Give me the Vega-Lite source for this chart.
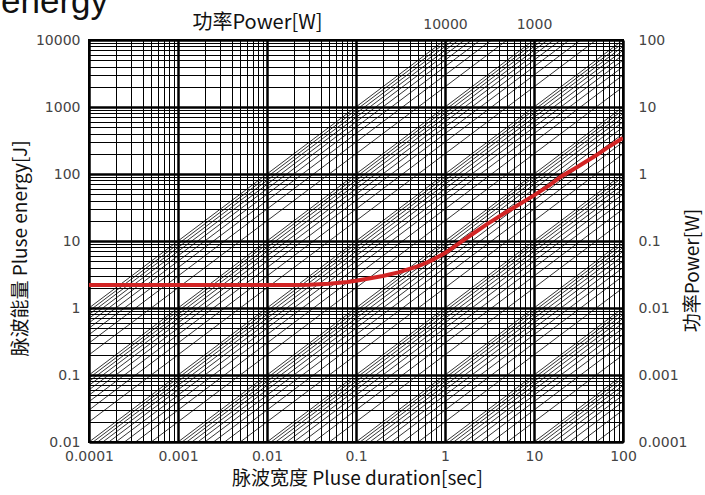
{
  "$schema": "https://vega.github.io/schema/vega-lite/v6.json",
  "width": 534,
  "height": 402,
  "autosize": "none",
  "padding": {"left": 89, "top": 40, "right": 82, "bottom": 53},
  "background": "white",
  "config": {
    "view": {"stroke": "black", "strokeWidth": 2},
    "axis": {
      "labelFont": "DejaVu Sans",
      "labelFontSize": 14,
      "labelColor": "#444",
      "titleFont": "Noto Sans CJK SC",
      "titleFontSize": 19,
      "titleFontWeight": "normal",
      "titleColor": "#111",
      "ticks": false,
      "tickSize": 0,
      "domain": false,
      "labelOverlap": false,
      "labelFlush": false,
      "labelBound": false
    }
  },
  "title": {
    "text": "energy",
    "anchor": "start",
    "frame": "group",
    "font": "Liberation Sans",
    "fontSize": 35,
    "fontWeight": "normal",
    "color": "#111",
    "baseline": "alphabetic",
    "dx": -88,
    "dy": 36,
    "offset": 0
  },
  "datasets": {
    "diag": [
      {"p":1e-4,"t1":0.0001,"t2":100,"e1":1e-8,"e2":0.01},{"p":2e-4,"t1":0.0001,"t2":100,"e1":2e-8,"e2":0.02},{"p":3e-4,"t1":0.0001,"t2":100,"e1":3e-8,"e2":0.03},{"p":4e-4,"t1":0.0001,"t2":100,"e1":4e-8,"e2":0.04},{"p":5e-4,"t1":0.0001,"t2":100,"e1":5e-8,"e2":0.05},{"p":6e-4,"t1":0.0001,"t2":100,"e1":6e-8,"e2":0.06},{"p":7e-4,"t1":0.0001,"t2":100,"e1":7e-8,"e2":0.07},{"p":8e-4,"t1":0.0001,"t2":100,"e1":8e-8,"e2":0.08},{"p":9e-4,"t1":0.0001,"t2":100,"e1":9e-8,"e2":0.09},
      {"p":1e-3,"t1":0.0001,"t2":100,"e1":1e-7,"e2":0.1},{"p":2e-3,"t1":0.0001,"t2":100,"e1":2e-7,"e2":0.2},{"p":3e-3,"t1":0.0001,"t2":100,"e1":3e-7,"e2":0.3},{"p":4e-3,"t1":0.0001,"t2":100,"e1":4e-7,"e2":0.4},{"p":5e-3,"t1":0.0001,"t2":100,"e1":5e-7,"e2":0.5},{"p":6e-3,"t1":0.0001,"t2":100,"e1":6e-7,"e2":0.6},{"p":7e-3,"t1":0.0001,"t2":100,"e1":7e-7,"e2":0.7},{"p":8e-3,"t1":0.0001,"t2":100,"e1":8e-7,"e2":0.8},{"p":9e-3,"t1":0.0001,"t2":100,"e1":9e-7,"e2":0.9},
      {"p":0.01,"t1":0.0001,"t2":100,"e1":1e-6,"e2":1},{"p":0.02,"t1":0.0001,"t2":100,"e1":2e-6,"e2":2},{"p":0.03,"t1":0.0001,"t2":100,"e1":3e-6,"e2":3},{"p":0.04,"t1":0.0001,"t2":100,"e1":4e-6,"e2":4},{"p":0.05,"t1":0.0001,"t2":100,"e1":5e-6,"e2":5},{"p":0.06,"t1":0.0001,"t2":100,"e1":6e-6,"e2":6},{"p":0.07,"t1":0.0001,"t2":100,"e1":7e-6,"e2":7},{"p":0.08,"t1":0.0001,"t2":100,"e1":8e-6,"e2":8},{"p":0.09,"t1":0.0001,"t2":100,"e1":9e-6,"e2":9},
      {"p":0.1,"t1":0.0001,"t2":100,"e1":1e-5,"e2":10},{"p":0.2,"t1":0.0001,"t2":100,"e1":2e-5,"e2":20},{"p":0.3,"t1":0.0001,"t2":100,"e1":3e-5,"e2":30},{"p":0.4,"t1":0.0001,"t2":100,"e1":4e-5,"e2":40},{"p":0.5,"t1":0.0001,"t2":100,"e1":5e-5,"e2":50},{"p":0.6,"t1":0.0001,"t2":100,"e1":6e-5,"e2":60},{"p":0.7,"t1":0.0001,"t2":100,"e1":7e-5,"e2":70},{"p":0.8,"t1":0.0001,"t2":100,"e1":8e-5,"e2":80},{"p":0.9,"t1":0.0001,"t2":100,"e1":9e-5,"e2":90},
      {"p":1,"t1":0.0001,"t2":100,"e1":1e-4,"e2":100},{"p":2,"t1":0.0001,"t2":100,"e1":2e-4,"e2":200},{"p":3,"t1":0.0001,"t2":100,"e1":3e-4,"e2":300},{"p":4,"t1":0.0001,"t2":100,"e1":4e-4,"e2":400},{"p":5,"t1":0.0001,"t2":100,"e1":5e-4,"e2":500},{"p":6,"t1":0.0001,"t2":100,"e1":6e-4,"e2":600},{"p":7,"t1":0.0001,"t2":100,"e1":7e-4,"e2":700},{"p":8,"t1":0.0001,"t2":100,"e1":8e-4,"e2":800},{"p":9,"t1":0.0001,"t2":100,"e1":9e-4,"e2":900},
      {"p":10,"t1":0.0001,"t2":100,"e1":1e-3,"e2":1000},{"p":20,"t1":0.0001,"t2":100,"e1":2e-3,"e2":2000},{"p":30,"t1":0.0001,"t2":100,"e1":3e-3,"e2":3000},{"p":40,"t1":0.0001,"t2":100,"e1":4e-3,"e2":4000},{"p":50,"t1":0.0001,"t2":100,"e1":5e-3,"e2":5000},{"p":60,"t1":0.0001,"t2":100,"e1":6e-3,"e2":6000},{"p":70,"t1":0.0001,"t2":100,"e1":7e-3,"e2":7000},{"p":80,"t1":0.0001,"t2":100,"e1":8e-3,"e2":8000},{"p":90,"t1":0.0001,"t2":100,"e1":9e-3,"e2":9000},
      {"p":100,"t1":0.0001,"t2":100,"e1":0.01,"e2":10000},{"p":200,"t1":0.0001,"t2":100,"e1":0.02,"e2":20000},{"p":300,"t1":0.0001,"t2":100,"e1":0.03,"e2":30000},{"p":400,"t1":0.0001,"t2":100,"e1":0.04,"e2":40000},{"p":500,"t1":0.0001,"t2":100,"e1":0.05,"e2":50000},{"p":600,"t1":0.0001,"t2":100,"e1":0.06,"e2":60000},{"p":700,"t1":0.0001,"t2":100,"e1":0.07,"e2":70000},{"p":800,"t1":0.0001,"t2":100,"e1":0.08,"e2":80000},{"p":900,"t1":0.0001,"t2":100,"e1":0.09,"e2":90000},
      {"p":1000,"t1":0.0001,"t2":100,"e1":0.1,"e2":1e5},{"p":2000,"t1":0.0001,"t2":100,"e1":0.2,"e2":2e5},{"p":3000,"t1":0.0001,"t2":100,"e1":0.3,"e2":3e5},{"p":4000,"t1":0.0001,"t2":100,"e1":0.4,"e2":4e5},{"p":5000,"t1":0.0001,"t2":100,"e1":0.5,"e2":5e5},{"p":6000,"t1":0.0001,"t2":100,"e1":0.6,"e2":6e5},{"p":7000,"t1":0.0001,"t2":100,"e1":0.7,"e2":7e5},{"p":8000,"t1":0.0001,"t2":100,"e1":0.8,"e2":8e5},{"p":9000,"t1":0.0001,"t2":100,"e1":0.9,"e2":9e5},
      {"p":10000,"t1":0.0001,"t2":100,"e1":1,"e2":1e6}
    ],
    "curve": [
      {"t":0.0001,"e":2.2},{"t":0.001,"e":2.2},{"t":0.005,"e":2.2},{"t":0.01,"e":2.2},{"t":0.02,"e":2.2},{"t":0.03,"e":2.22},{"t":0.05,"e":2.3},{"t":0.08,"e":2.45},{"t":0.1,"e":2.55},{"t":0.15,"e":2.8},{"t":0.2,"e":3.0},{"t":0.3,"e":3.4},{"t":0.5,"e":4.2},{"t":0.7,"e":5.1},{"t":1,"e":6.6},{"t":1.5,"e":9.6},{"t":2,"e":12.5},{"t":3,"e":18},{"t":5,"e":27.5},{"t":7,"e":36},{"t":10,"e":48},{"t":15,"e":68},{"t":20,"e":91},{"t":30,"e":125},{"t":50,"e":190},{"t":70,"e":258},{"t":100,"e":345}
    ]
  },
  "layer": [
    {
      "data": {"name": "diag"},
      "mark": {"type": "rule", "clip": true, "color": "black", "strokeWidth": 0.8},
      "encoding": {
        "x": {
          "field": "t1", "type": "quantitative",
          "scale": {"type": "log", "domain": [0.0001, 100], "nice": false},
          "axis": {
            "orient": "bottom",
            "values": [0.0001,0.0002,0.0003,0.0004,0.0005,0.0006,0.0007,0.0008,0.0009,0.001,0.002,0.003,0.004,0.005,0.006,0.007,0.008,0.009,0.01,0.02,0.03,0.04,0.05,0.06,0.07,0.08,0.09,0.1,0.2,0.3,0.4,0.5,0.6,0.7,0.8,0.9,1,2,3,4,5,6,7,8,9,10,20,30,40,50,60,70,80,90,100],
            "labelExpr": "abs(log(datum.value)/LN10 - round(log(datum.value)/LN10)) < 0.001 ? format(datum.value, '~r') : ''",
            "grid": true,
            "gridColor": "black",
            "gridOpacity": 1,
            "gridWidth": {"condition": {"test": "abs(log(datum.value)/LN10 - round(log(datum.value)/LN10)) < 0.001", "value": 2.5}, "value": 1},
            "labelPadding": 7,
            "title": "脉波宽度  Pluse duration[sec]",
            "titleX": 268,
            "titleY": 36,
            "titleBaseline": "middle",
            "titleAlign": "center"
          }
        },
        "x2": {"field": "t2"},
        "y": {
          "field": "e1", "type": "quantitative",
          "scale": {"type": "log", "domain": [0.01, 10000], "nice": false},
          "axis": {
            "orient": "left",
            "values": [0.01,0.02,0.03,0.04,0.05,0.06,0.07,0.08,0.09,0.1,0.2,0.3,0.4,0.5,0.6,0.7,0.8,0.9,1,2,3,4,5,6,7,8,9,10,20,30,40,50,60,70,80,90,100,200,300,400,500,600,700,800,900,1000,2000,3000,4000,5000,6000,7000,8000,9000,10000],
            "labelExpr": "abs(log(datum.value)/LN10 - round(log(datum.value)/LN10)) < 0.001 ? format(datum.value, '~r') : ''",
            "grid": true,
            "gridColor": "black",
            "gridOpacity": 1,
            "gridWidth": {"condition": {"test": "abs(log(datum.value)/LN10 - round(log(datum.value)/LN10)) < 0.001", "value": 2.5}, "value": 1},
            "labelPadding": 9,
            "title": "脉波能量  Pluse energy[J]",
            "titleX": -69,
            "titleY": 208,
            "titleBaseline": "middle",
            "titleAlign": "center",
            "titleAngle": -90
          }
        },
        "y2": {"field": "e2"}
      }
    },
    {
      "data": {"name": "curve"},
      "mark": {"type": "line", "clip": true, "color": "#d22424", "strokeWidth": 4},
      "encoding": {
        "x": {
          "field": "t", "type": "quantitative",
          "scale": {"type": "log", "domain": [0.0001, 100], "nice": false},
          "axis": {
            "orient": "top",
            "values": [1, 10],
            "labelExpr": "datum.value < 5 ? '10000' : '1000'",
            "grid": false,
            "labelPadding": 9,
            "title": "功率Power[W]",
            "titleFontSize": 20,
            "titleX": 168,
            "titleY": -18,
            "titleBaseline": "middle",
            "titleAlign": "center"
          }
        },
        "y": {
          "field": "e", "type": "quantitative",
          "scale": {"type": "log", "domain": [0.01, 10000], "nice": false},
          "axis": {
            "orient": "right",
            "values": [0.01, 0.1, 1, 10, 100, 1000, 10000],
            "labelExpr": "format(datum.value / 100, '~r')",
            "grid": false,
            "labelPadding": 15,
            "title": "功率Power[W]",
            "titleX": 69,
            "titleY": 230,
            "titleBaseline": "middle",
            "titleAlign": "center",
            "titleAngle": -90
          }
        }
      }
    }
  ],
  "resolve": {"axis": {"x": "independent", "y": "independent"}}
}
